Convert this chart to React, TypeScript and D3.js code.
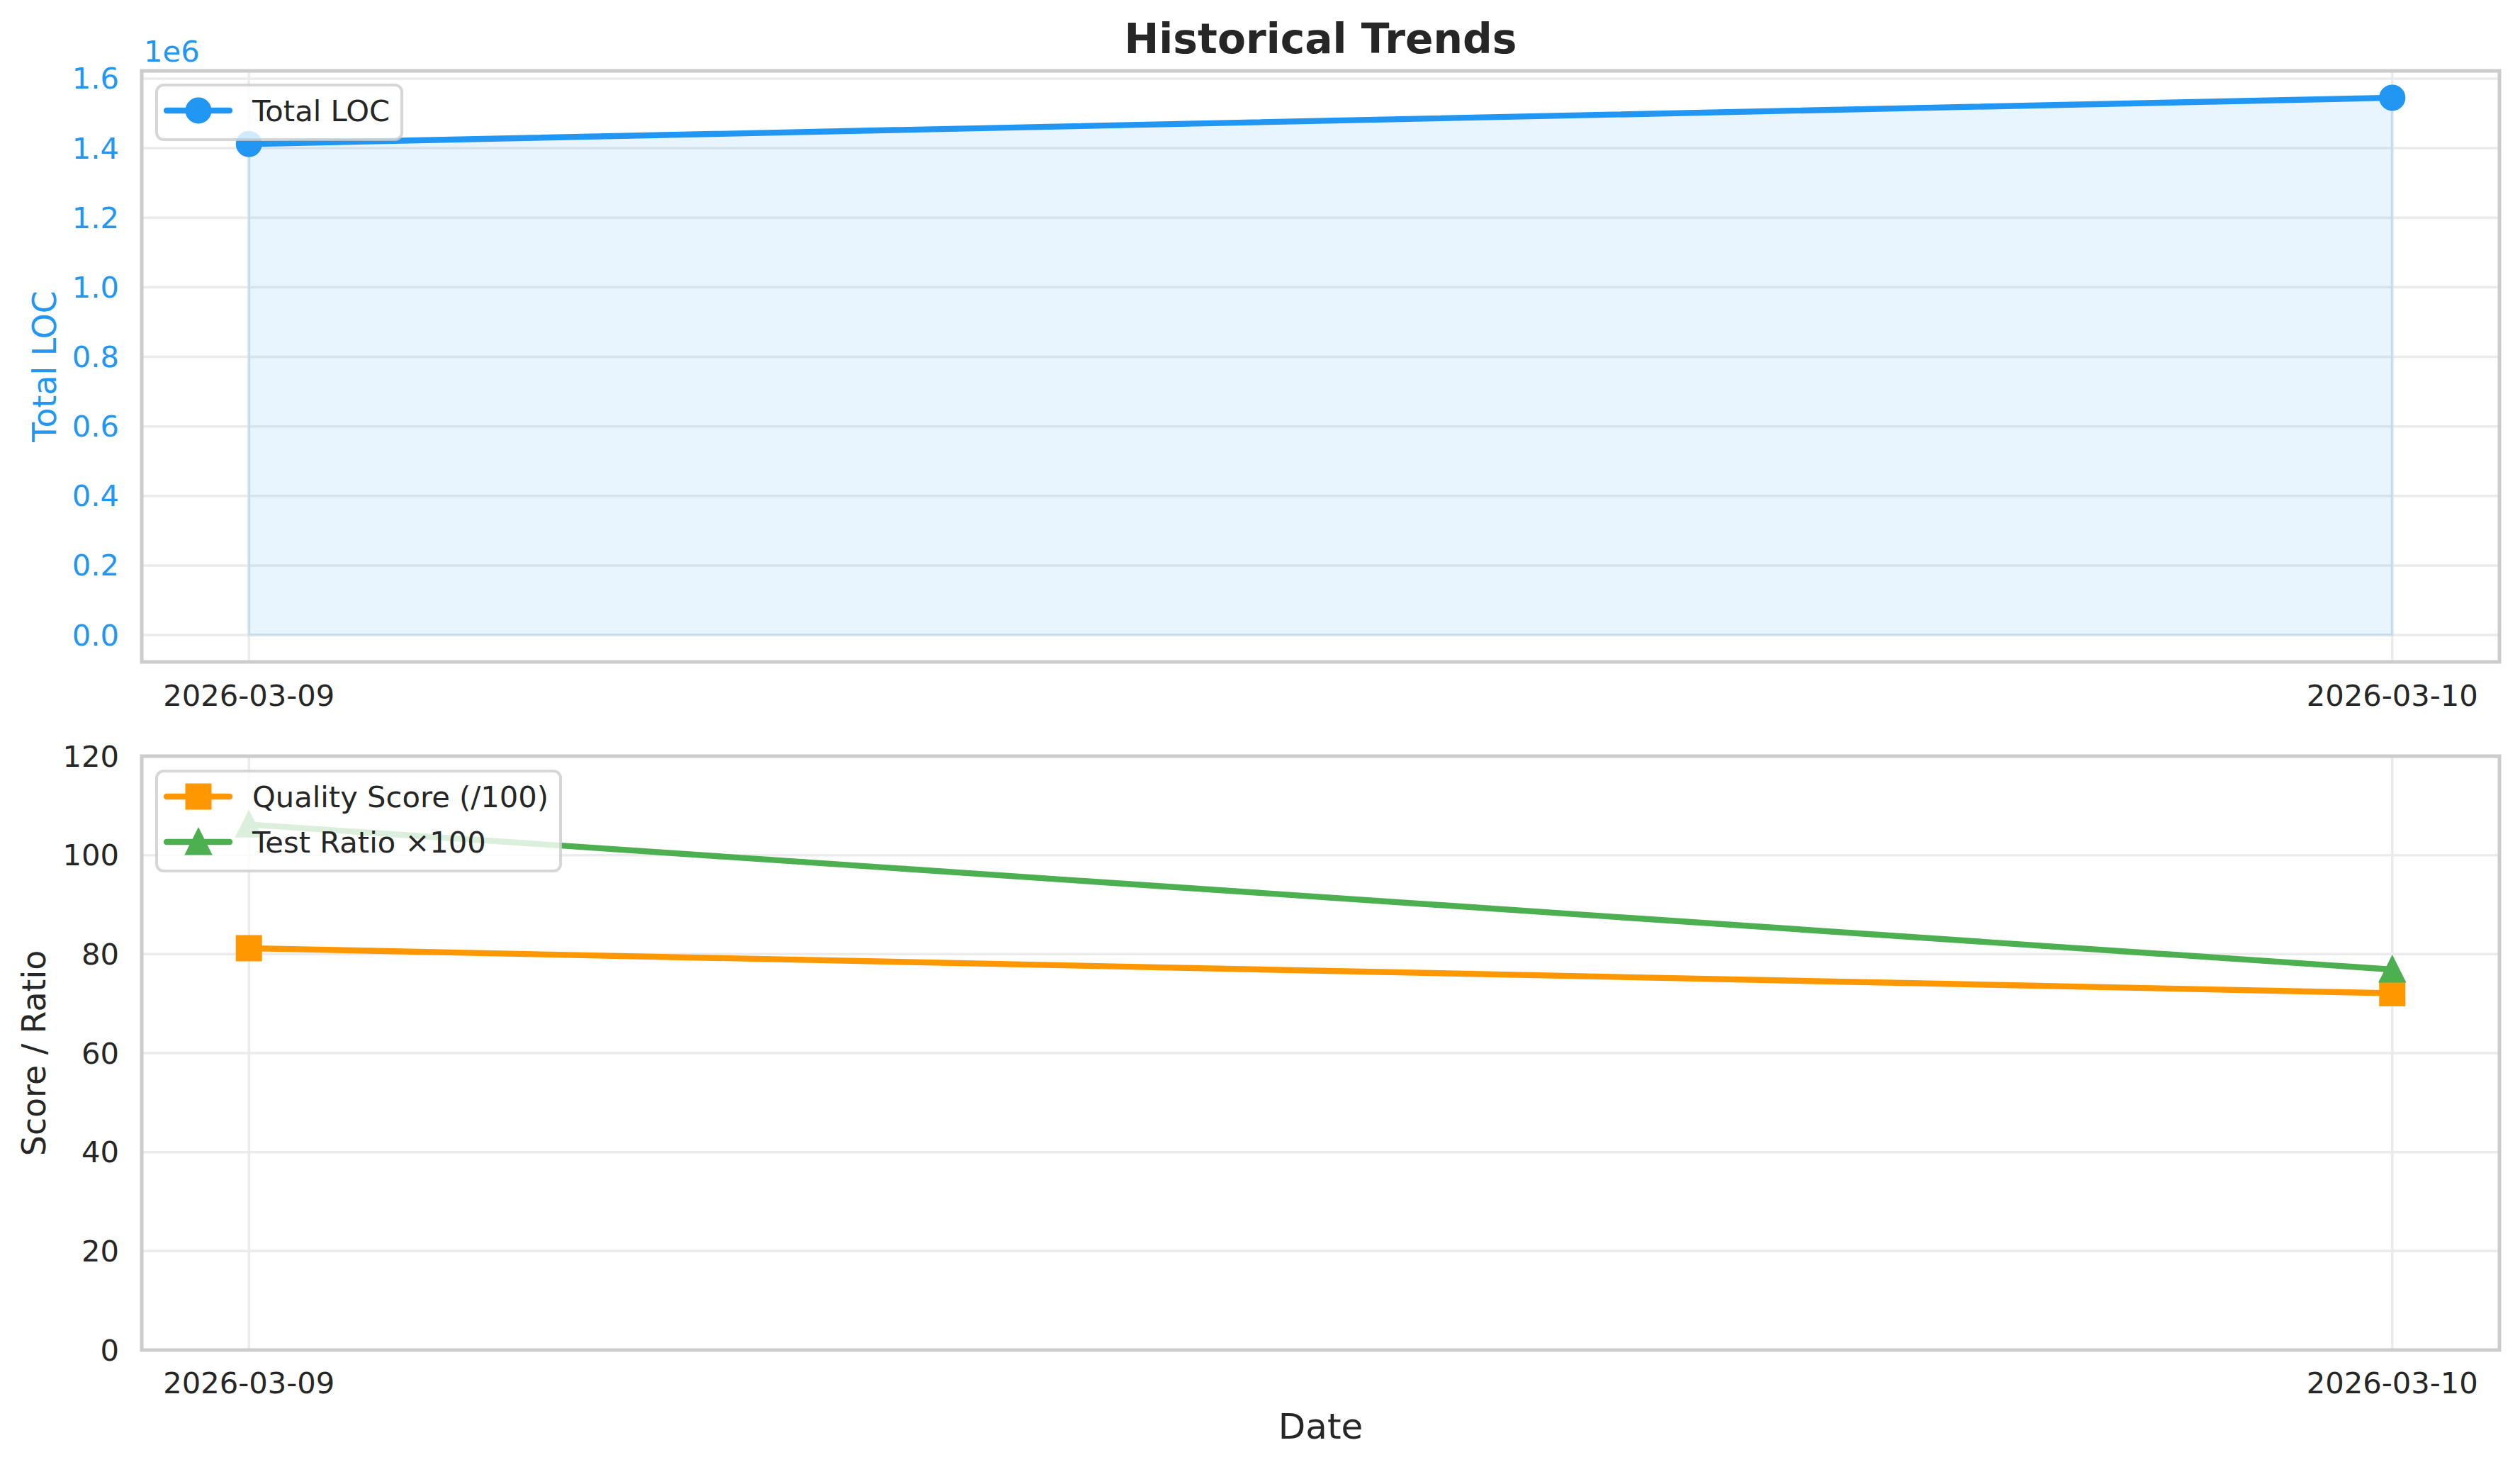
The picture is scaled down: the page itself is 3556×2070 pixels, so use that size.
import React from "react";
import * as d3 from "d3";

// ---------- data ----------
const dates = ["2026-03-09", "2026-03-10"];
const totalLoc = [1412000, 1545000];
const qualityScore = [81.2, 72.1];
const testRatioX100 = [106.2, 76.9];
const locTicks = [0, 200000, 400000, 600000, 800000, 1000000, 1200000, 1400000, 1600000];
const scoreTicks = [0, 20, 40, 60, 80, 100, 120];

// ---------- style ----------
const W = 3556;
const H = 2070;
const FONT = "'DejaVu Sans', sans-serif";
const TEXT = "#262626";
const BLUE = "#2196F3";
const ORANGE = "#FF9800";
const GREEN = "#4CAF50";
const FRAME = "#cccccc";
const GRID = "#ebebeb";
const TICK_FS = 41.67;
const LABEL_FS = 45.8;
const XLABEL_FS = 50;
const TITLE_FS = 58.3;
const LW = 8.4;
const MS = 33;
const MEW = 4;

const L = 200;
const R = 3527;
const top1 = 100;
const bot1 = 934;
const top2 = 1067;
const bot2 = 1905;

function measure(text: string, size: number, weight = "normal") {
  const ctx = document.createElement("canvas").getContext("2d");
  if (!ctx) return text.length * size * 0.6;
  ctx.font = `${weight} ${size}px "DejaVu Sans"`;
  return ctx.measureText(text).width;
}

const n = dates.length;
const x = d3
  .scaleLinear()
  .domain([-0.05 * (n - 1), (n - 1) * 1.05])
  .range([L, R]);

const locMax = d3.max(totalLoc) as number;
const y1 = d3
  .scaleLinear()
  .domain([-0.05 * locMax, 1.05 * locMax])
  .range([bot1, top1]);
const y2 = d3.scaleLinear().domain([0, 120]).range([bot2, top2]);

function Marker({ type, cx, cy, color }: { type: string; cx: number; cy: number; color: string }) {
  const s = MS / 2;
  if (type === "o") return <circle cx={cx} cy={cy} r={s} fill={color} stroke={color} strokeWidth={MEW} />;
  if (type === "s")
    return <rect x={cx - s} y={cy - s} width={MS} height={MS} fill={color} stroke={color} strokeWidth={MEW} />;
  const p = `M${cx},${cy - s}L${cx - s},${cy + s}L${cx + s},${cy + s}Z`;
  return <path d={p} fill={color} stroke={color} strokeWidth={MEW} strokeLinejoin="miter" />;
}

function Legend({ x0, y0, items }: { x0: number; y0: number; items: { label: string; color: string; m: string }[] }) {
  const rowH = 64;
  const textX = x0 + 135;
  const widths = items.map((it) => measure(it.label, TICK_FS));
  const w = 135 + (d3.max(widths) as number) + 17;
  const h = 77 + (items.length - 1) * rowH;
  return (
    <g>
      <rect x={x0} y={y0} width={w} height={h} rx={10} ry={10} fill="white" fillOpacity={0.8} stroke="#cccccc" strokeOpacity={0.8} strokeWidth={4} />
      {items.map((it, i) => {
        const cy = y0 + 36 + i * rowH;
        return (
          <g key={it.label}>
            <line x1={x0 + 14} x2={x0 + 103} y1={cy} y2={cy} stroke={it.color} strokeWidth={LW} strokeLinecap="round" />
            <Marker type={it.m} cx={x0 + 59} cy={cy} color={it.color} />
            <text x={textX} y={cy} dominantBaseline="central" fontSize={TICK_FS} fill={TEXT} fontFamily={FONT}>
              {it.label}
            </text>
          </g>
        );
      })}
    </g>
  );
}

export default function App() {
  const xs = dates.map((_, i) => x(i));
  const locLine = d3
    .line<number>()
    .x((_, i) => x(i))
    .y((d) => y1(d))(totalLoc) as string;
  const locArea = d3
    .area<number>()
    .x((_, i) => x(i))
    .y0(() => y1(0))
    .y1((d) => y1(d))(totalLoc) as string;
  const qLine = d3
    .line<number>()
    .x((_, i) => x(i))
    .y((d) => y2(d))(qualityScore) as string;
  const tLine = d3
    .line<number>()
    .x((_, i) => x(i))
    .y((d) => y2(d))(testRatioX100) as string;

  return (
    <svg width={W} height={H} style={{ position: "absolute", left: 0, top: 0, background: "white" }} fontFamily={FONT}>
      <rect x={0} y={0} width={W} height={H} fill="white" />
      {/* title */}
      <text x={(L + R) / 2} y={75} textAnchor="middle" fontSize={TITLE_FS} fontWeight="bold" fill={TEXT}>
        Historical Trends
      </text>

      {/* ---------- top axes ---------- */}
      <g>
        {locTicks.map((t) => (
          <line key={t} x1={L} x2={R} y1={y1(t)} y2={y1(t)} stroke={GRID} strokeWidth={3.5} />
        ))}
        {xs.map((xx, i) => (
          <line key={i} x1={xx} x2={xx} y1={top1} y2={bot1} stroke={GRID} strokeWidth={3.5} />
        ))}
        <path d={locArea} fill={BLUE} fillOpacity={0.1} stroke={BLUE} strokeOpacity={0.1} strokeWidth={4} />
        <path d={locLine} fill="none" stroke={BLUE} strokeWidth={LW} strokeLinecap="round" />
        {totalLoc.map((v, i) => (
          <Marker key={i} type="o" cx={x(i)} cy={y1(v)} color={BLUE} />
        ))}
        <rect x={L} y={top1} width={R - L} height={bot1 - top1} fill="none" stroke={FRAME} strokeWidth={5} />
        {locTicks.map((t) => (
          <text key={t} x={168} y={y1(t)} textAnchor="end" dominantBaseline="central" fontSize={TICK_FS} fill={BLUE}>
            {(t / 1e6).toFixed(1)}
          </text>
        ))}
        <text x={203} y={87} fontSize={TICK_FS} fill={BLUE}>
          1e6
        </text>
        {dates.map((d, i) => (
          <text key={d} x={x(i)} y={996} textAnchor="middle" fontSize={TICK_FS} fill={TEXT}>
            {d}
          </text>
        ))}
        <text
          transform={`translate(63,${(top1 + bot1) / 2}) rotate(-90)`}
          textAnchor="middle"
          dominantBaseline="central"
          fontSize={LABEL_FS}
          fill={BLUE}
        >
          Total LOC
        </text>
        <Legend x0={221} y0={120} items={[{ label: "Total LOC", color: BLUE, m: "o" }]} />
      </g>

      {/* ---------- bottom axes ---------- */}
      <g>
        {scoreTicks.map((t) => (
          <line key={t} x1={L} x2={R} y1={y2(t)} y2={y2(t)} stroke={GRID} strokeWidth={3.5} />
        ))}
        {xs.map((xx, i) => (
          <line key={i} x1={xx} x2={xx} y1={top2} y2={bot2} stroke={GRID} strokeWidth={3.5} />
        ))}
        <path d={qLine} fill="none" stroke={ORANGE} strokeWidth={LW} strokeLinecap="round" />
        {qualityScore.map((v, i) => (
          <Marker key={i} type="s" cx={x(i)} cy={y2(v)} color={ORANGE} />
        ))}
        <path d={tLine} fill="none" stroke={GREEN} strokeWidth={LW} strokeLinecap="round" />
        {testRatioX100.map((v, i) => (
          <Marker key={i} type="^" cx={x(i)} cy={y2(v)} color={GREEN} />
        ))}
        <rect x={L} y={top2} width={R - L} height={bot2 - top2} fill="none" stroke={FRAME} strokeWidth={5} />
        {scoreTicks.map((t) => (
          <text key={t} x={168} y={y2(t)} textAnchor="end" dominantBaseline="central" fontSize={TICK_FS} fill={TEXT}>
            {t}
          </text>
        ))}
        {dates.map((d, i) => (
          <text key={d} x={x(i)} y={1966} textAnchor="middle" fontSize={TICK_FS} fill={TEXT}>
            {d}
          </text>
        ))}
        <text
          transform={`translate(48,${(top2 + bot2) / 2}) rotate(-90)`}
          textAnchor="middle"
          dominantBaseline="central"
          fontSize={LABEL_FS}
          fill={TEXT}
        >
          Score / Ratio
        </text>
        <text x={(L + R) / 2} y={2030} textAnchor="middle" fontSize={XLABEL_FS} fill={TEXT}>
          Date
        </text>
        <Legend
          x0={221}
          y0={1088}
          items={[
            { label: "Quality Score (/100)", color: ORANGE, m: "s" },
            { label: "Test Ratio ×100", color: GREEN, m: "^" },
          ]}
        />
      </g>
    </svg>
  );
}
